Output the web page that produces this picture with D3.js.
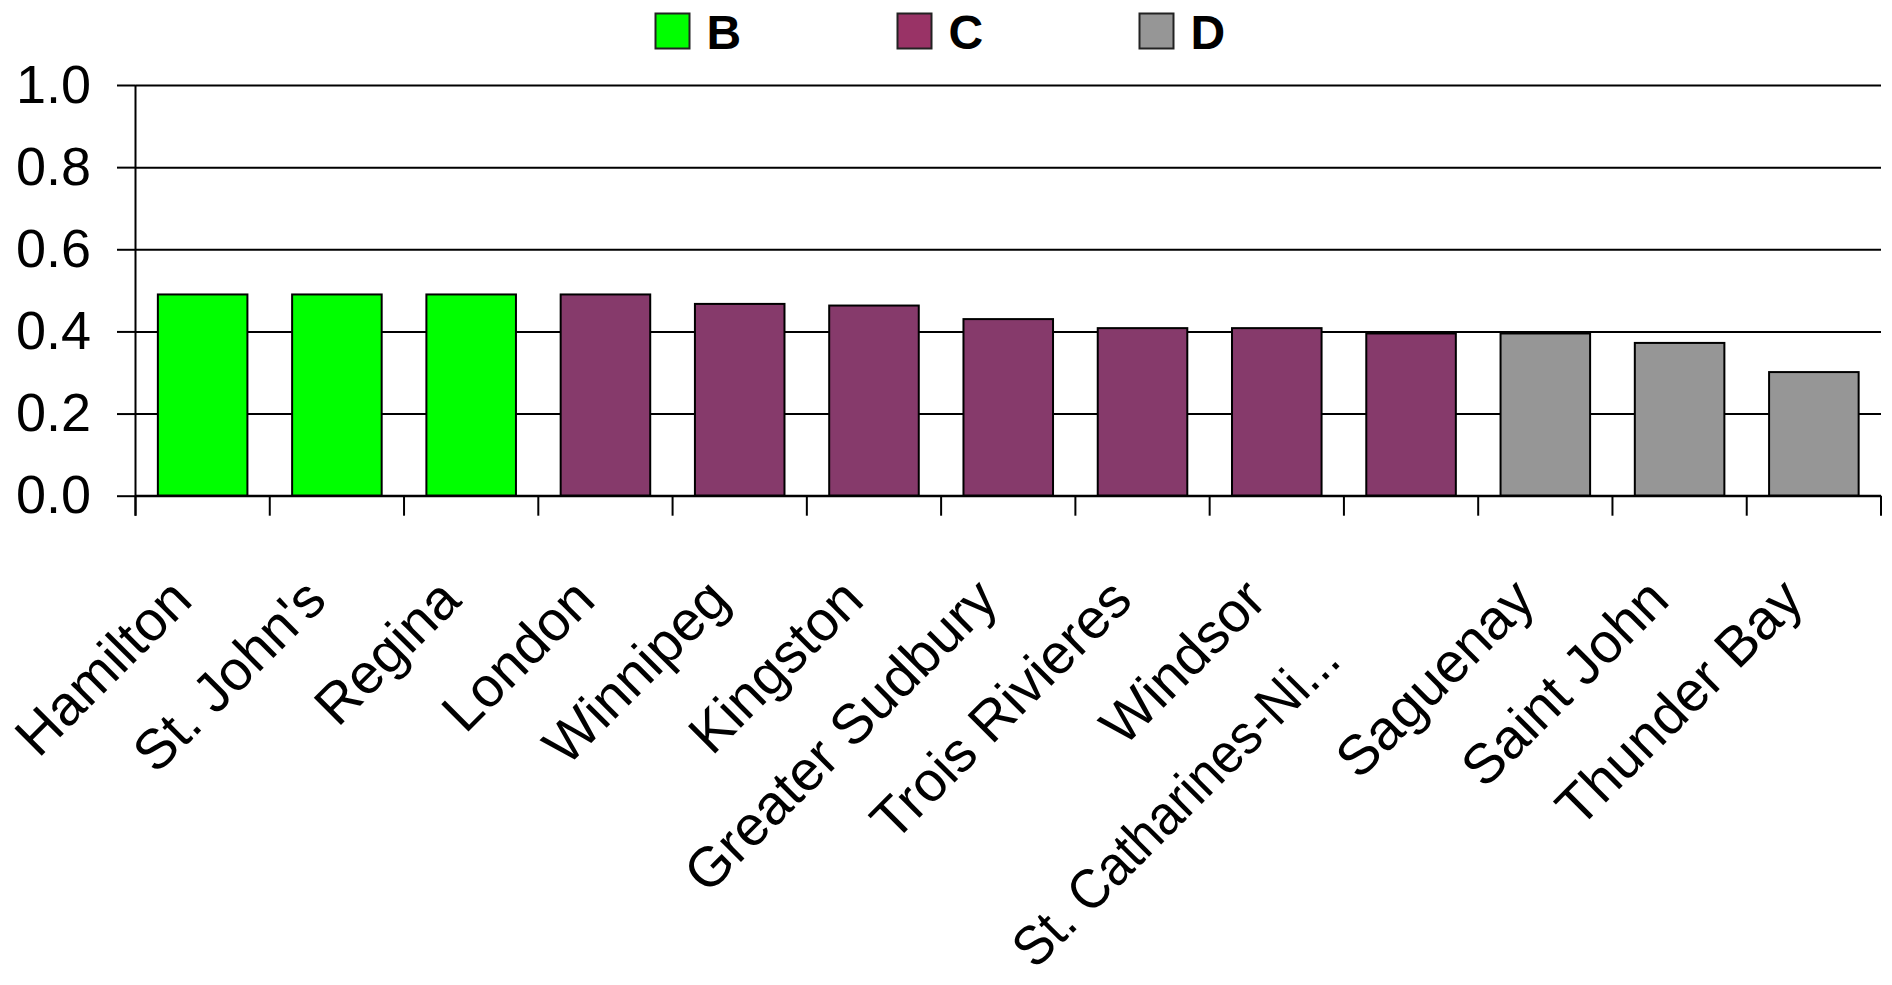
<!DOCTYPE html>
<html>
<head>
<meta charset="utf-8">
<script src="https://cdn.jsdelivr.net/npm/d3@7"></script>
<style>
html,body{margin:0;padding:0;background:#fff;}
svg{display:block;font-family:"Liberation Sans",Arial,Helvetica,sans-serif;}
</style>
</head>
<body>
<svg id="chart" width="1892" height="985"></svg>
<script>
// ---- data ----
const categories = ["Hamilton","St. John's","Regina","London","Winnipeg","Kingston","Greater Sudbury","Trois Rivieres","Windsor","St. Catharines-Ni...","Saguenay","Saint John","Thunder Bay"];
const values = [0.49,0.49,0.49,0.49,0.467,0.463,0.43,0.408,0.408,0.395,0.395,0.372,0.301];
const groups = ["B","B","B","C","C","C","C","C","C","C","D","D","D"];
const legendKeys = ["B","C","D"];
const yTicks = [0,0.2,0.4,0.6,0.8,1.0];

// ---- styles ----
const barColors = {B:"#00FF00", C:"#863A6B", D:"#969696"};
const legendColors = {B:"#00FF00", C:"#993366", D:"#969696"};

const svg = d3.select("#chart");
const plotL = 135.5, plotR = 1881, plotT = 85, plotB = 495.7;

const x = d3.scaleBand().domain(categories).range([plotL, plotR]).paddingInner(0).paddingOuter(0);
const y = d3.scaleLinear().domain([0, 1]).range([plotB, plotT]);

// gridlines
const grid = svg.append("g").attr("transform", `translate(${plotL},0)`)
  .call(d3.axisLeft(y).tickValues(yTicks).tickSize(-(plotR - plotL)).tickFormat(""));
grid.select(".domain").remove();
grid.selectAll(".tick line").attr("stroke", "#000").attr("stroke-width", 2);

// y ticks + labels
const yAxis = svg.append("g").attr("transform", `translate(${plotL},0)`)
  .call(d3.axisLeft(y).tickValues(yTicks).tickSize(18.5).tickPadding(26).tickFormat(d3.format(".1f")));
yAxis.select(".domain").remove();
yAxis.selectAll(".tick line").attr("stroke", "#000").attr("stroke-width", 2);
yAxis.selectAll(".tick text").attr("font-size", 54).attr("fill", "#000")
  .attr("font-family", '"Liberation Sans",Arial,sans-serif');

// bars
const barFrac = 0.667;
svg.append("g").selectAll("rect").data(categories).join("rect")
  .attr("x", (d) => x(d) + x.bandwidth() * (1 - barFrac) / 2)
  .attr("width", x.bandwidth() * barFrac)
  .attr("y", (d, i) => y(values[i]))
  .attr("height", (d, i) => y(0) - y(values[i]))
  .attr("fill", (d, i) => barColors[groups[i]])
  .attr("stroke", "#000").attr("stroke-width", 2);

// y axis line
svg.append("line").attr("x1", plotL).attr("x2", plotL).attr("y1", y(1)).attr("y2", y(0) + 20)
  .attr("stroke", "#000").attr("stroke-width", 2);
// x axis line
svg.append("line").attr("x1", plotL).attr("x2", plotR).attr("y1", y(0)).attr("y2", y(0))
  .attr("stroke", "#000").attr("stroke-width", 2);
// x tick marks at band boundaries
const bounds = categories.map(c => x(c)).concat([x(categories[categories.length - 1]) + x.bandwidth()]);
svg.append("g").selectAll("line").data(bounds).join("line")
  .attr("x1", d => d).attr("x2", d => d).attr("y1", y(0)).attr("y2", y(0) + 20)
  .attr("stroke", "#000").attr("stroke-width", 2);

// x labels rotated
const xl = svg.append("g").selectAll("text").data(categories).join("text")
  .attr("text-anchor", "end")
  .attr("font-size", 56)
  .attr("fill", "#000")
  .attr("transform", d => {
    const shift = d.endsWith("...") ? 85 : 0;
    const cx = x(d) + x.bandwidth() / 2 - 8 - shift * Math.SQRT1_2;
    const cy = y(0) + 107 + shift * Math.SQRT1_2;
    return `translate(${cx},${cy}) rotate(-45)`;
  })
  .text(d => d);
// truncated label is drawn slightly condensed, as in the original
xl.filter(d => d.endsWith("...")).each(function () {
  const len = this.getComputedTextLength();
  d3.select(this).attr("textLength", len * 0.92).attr("lengthAdjust", "spacingAndGlyphs");
});

// legend
const legendX = d3.scalePoint().domain(legendKeys).range([655.5, 1139.5]);
const lg = svg.append("g").selectAll("g").data(legendKeys).join("g")
  .attr("transform", d => `translate(${legendX(d)},0)`);
lg.append("rect").attr("x", 0).attr("y", 13.5).attr("width", 34).attr("height", 35)
  .attr("fill", d => legendColors[d]).attr("stroke", "#222").attr("stroke-width", 2);
lg.append("text").attr("x", 51).attr("y", 48.5).attr("font-size", 48).attr("font-weight", "bold")
  .attr("fill", "#000").text(d => d);
</script>
</body>
</html>
